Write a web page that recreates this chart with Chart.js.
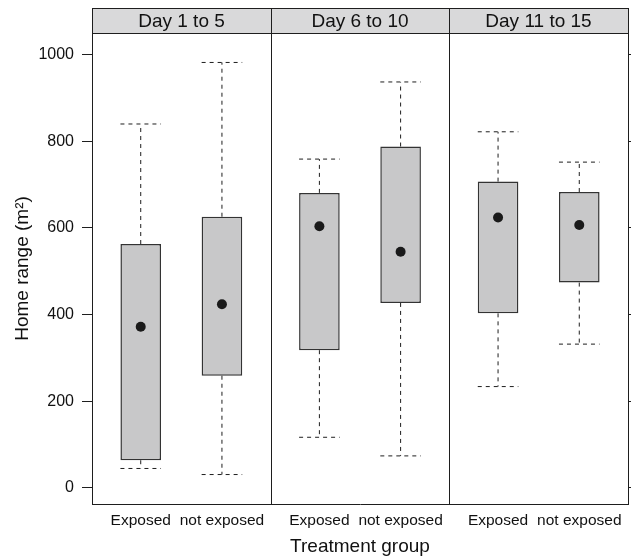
<!DOCTYPE html>
<html>
<head>
<meta charset="utf-8">
<script src="https://cdn.jsdelivr.net/npm/chart.js@4.4.1/dist/chart.umd.min.js"></script>
<style>
    html, body { margin: 0; padding: 0; background: #fff; }
    #wrap { width: 633px; height: 560px; }
</style>
</head>
<body>
<div id="wrap"><canvas id="chart"></canvas></div>
<script>
// ---------- data ----------
const panels = ["Day 1 to 5", "Day 6 to 10", "Day 11 to 15"];
const groups = ["Exposed", "not exposed"];

// one value per box, order: panel 1 (Exposed, not exposed), panel 2, panel 3
const whiskerLow  = [45, 31, 117, 74, 234, 332];
const boxLow      = [64, 259, 318, 427, 403, 474];
const medians     = [372, 424, 604, 545, 624, 607];
const boxHigh     = [563, 626, 681, 788, 707, 683];
const whiskerHigh = [840, 982, 759, 937, 822, 752];

const yTicks = [0, 200, 400, 600, 800, 1000];

// ---------- layout helpers ----------
const PANEL_W = 2.2;      // each panel spans 0.4 .. 2.6 in group units
const HALF_BOX = 0.25;    // half box width in group units
const FONT = "'Liberation Sans', Arial, Helvetica, sans-serif";
const INK = "#1e1e1e";

const xPos = [];
const xLabels = [];
panels.forEach((p, k) => {
    groups.forEach((g, j) => {
        xPos.push(k * PANEL_W + 0.6 + j);
        xLabels.push(g);
    });
});

// whisker segments (dashed)
const whiskerData = [];
const capData = [];
xPos.forEach((x, i) => {
    whiskerData.push({ x, y: boxHigh[i] }, { x, y: whiskerHigh[i] }, { x, y: null });
    whiskerData.push({ x, y: boxLow[i] }, { x, y: whiskerLow[i] }, { x, y: null });
    capData.push({ x: x - HALF_BOX, y: whiskerHigh[i] }, { x: x + HALF_BOX, y: whiskerHigh[i] }, { x, y: null });
    capData.push({ x: x - HALF_BOX, y: whiskerLow[i] }, { x: x + HALF_BOX, y: whiskerLow[i] }, { x, y: null });
});

// ---------- strip plugin (panel headers + panel dividers) ----------
const stripPlugin = {
    id: "strips",
    afterDraw(chart) {
        const { ctx, chartArea, scales } = chart;
        const h = 25;
        ctx.save();
        ctx.lineWidth = 1;
        ctx.strokeStyle = INK;
        panels.forEach((p, k) => {
            const x0 = Math.round(scales.x.getPixelForValue(k * PANEL_W));
            const x1 = Math.round(scales.x.getPixelForValue((k + 1) * PANEL_W));
            const y0 = Math.round(chartArea.top - h);
            ctx.fillStyle = "#d9d9da";
            ctx.fillRect(x0, y0, x1 - x0, h);
            ctx.strokeRect(x0 + 0.5, y0 + 0.5, x1 - x0, h);
            if (k > 0) {
                ctx.beginPath();
                ctx.moveTo(x0 + 0.5, chartArea.top);
                ctx.lineTo(x0 + 0.5, chartArea.bottom);
                ctx.stroke();
            }
            ctx.fillStyle = "#111";
            ctx.font = "19px " + FONT;
            ctx.textAlign = "center";
            ctx.textBaseline = "middle";
            ctx.fillText(p, (x0 + x1) / 2, y0 + h / 2 + 1.5);
        });
        ctx.restore();
    }
};

// ---------- chart ----------
new Chart(document.getElementById("chart"), {
    type: "bar",
    data: {
        datasets: [
            {
                type: "line",
                data: medians.map((m, i) => ({ x: xPos[i], y: m })),
                showLine: false,
                pointRadius: 5,
                pointBackgroundColor: "#1a1a1a",
                pointBorderWidth: 0,
                order: 0
            },
            {
                type: "bar",
                data: boxLow.map((lo, i) => ({ x: xPos[i], y: [lo, boxHigh[i]] })),
                backgroundColor: "#c8c8c9",
                borderColor: "#333",
                borderWidth: 1.5,
                borderSkipped: false,
                barPercentage: 0.5,
                categoryPercentage: 1,
                order: 2
            },
            {
                type: "line",
                data: whiskerData,
                borderColor: INK,
                borderWidth: 1,
                borderDash: [4, 4],
                pointRadius: 0,
                spanGaps: false,
                order: 3
            },
            {
                type: "line",
                data: capData,
                borderColor: INK,
                borderWidth: 1,
                borderDash: [4, 4],
                pointRadius: 0,
                spanGaps: false,
                order: 3
            }
        ]
    },
    options: {
        responsive: true,
        maintainAspectRatio: false,
        animation: false,
        layout: { padding: { top: 33, left: 0, right: 0, bottom: 0 } },
        plugins: { legend: { display: false }, tooltip: { enabled: false } },
        scales: {
            x: {
                type: "linear",
                min: 0,
                max: panels.length * PANEL_W,
                offset: false,
                afterBuildTicks: s => { s.ticks = xPos.map(v => ({ value: v })); },
                afterFit: s => { s.height = 56; },
                ticks: {
                    autoSkip: false,
                    maxRotation: 0,
                    padding: 7,
                    color: "#111",
                    font: { family: FONT, size: 15.5 },
                    callback: (v, i) => xLabels[i]
                },
                grid: { display: false, drawTicks: false },
                border: { color: INK, width: 1 },
                title: {
                    display: true,
                    text: "Treatment group",
                    color: "#111",
                    font: { family: FONT, size: 19 },
                    padding: { top: 4, bottom: 2 }
                }
            },
            y: {
                position: "left",
                min: -37,
                max: 1050,
                afterBuildTicks: s => { s.ticks = yTicks.map(v => ({ value: v })); },
                afterFit: s => { s.width = 92; },
                ticks: {
                    padding: 8,
                    color: "#111",
                    font: { family: FONT, size: 16 },
                    callback: v => String(v)
                },
                grid: { drawOnChartArea: false, tickLength: 10, tickColor: INK },
                border: { color: INK, width: 1 },
                title: {
                    display: true,
                    text: "Home range (m²)",
                    color: "#111",
                    font: { family: FONT, size: 19 },
                    padding: { top: 11, bottom: 0 }
                }
            },
            y2: {
                position: "right",
                min: -37,
                max: 1050,
                afterBuildTicks: s => { s.ticks = yTicks.map(v => ({ value: v })); },
                afterFit: s => { s.width = 3; },
                ticks: { display: false },
                grid: { drawOnChartArea: false, tickLength: 3, tickColor: INK },
                border: { color: INK, width: 1 }
            }
        }
    },
    plugins: [stripPlugin]
});
</script>
</body>
</html>
